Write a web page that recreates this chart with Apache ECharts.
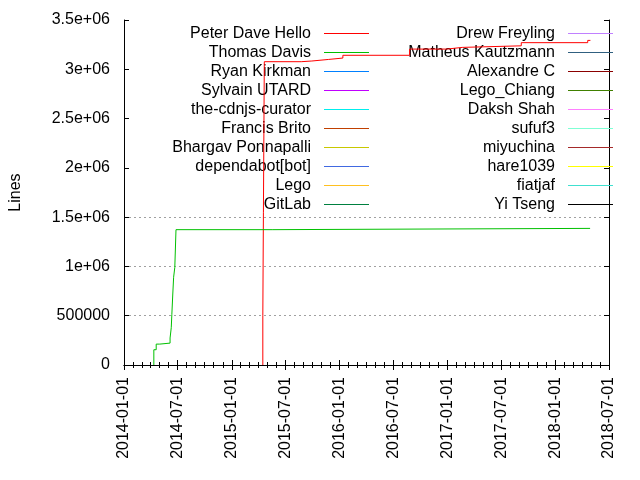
<!DOCTYPE html>
<html>
<head>
<meta charset="utf-8">
<script src="https://cdn.jsdelivr.net/npm/echarts@6/dist/echarts.min.js"></script>
<style>
	html, body { margin: 0; padding: 0; background: #fff; }
	#linesByAuthor { width: 640px; height: 480px; }
</style>
</head>
<body>
<div id="linesByAuthor"></div>
<script>
var authors = ['Peter Dave Hello', 'Thomas Davis', 'Ryan Kirkman', 'Sylvain UTARD', 'the-cdnjs-curator',
	'Francis Brito', 'Bhargav Ponnapalli', 'dependabot[bot]', 'Lego', 'GitLab',
	'Drew Freyling', 'Matheus Kautzmann', 'Alexandre C', 'Lego_Chiang', 'Daksh Shah',
	'sufuf3', 'miyuchina', 'hare1039', 'fiatjaf', 'Yi Tseng'];
var authorColors = ['#ff0000', '#00c000', '#0080ff', '#c000ff', '#00eeee',
	'#c04000', '#c8c800', '#4169e1', '#ffc020', '#008040',
	'#c080ff', '#306080', '#8b0000', '#408000', '#ff80ff',
	'#7fffd4', '#a52a2a', '#ffff00', '#40e0d0', '#000000'];

// cumulative lines, only the two visible authors
var peterDates = ['2015-04-16', '2015-04-16', '2015-04-18', '2015-04-21', '2015-08-24', '2015-09-29',
	'2015-11-25', '2016-01-12', '2016-08-25', '2016-12-29', '2017-02-19', '2017-09-07', '2018-04-20', '2018-04-29'];
var peterLines = [0, 500000, 1550000, 3077000, 3084000, 3100000,
	3114000, 3142000, 3205000, 3222000, 3238000, 3270000, 3293000, 3293000];
var thomasDates = ['2014-04-12', '2014-04-12', '2014-04-20', '2014-05-02', '2014-06-06', '2014-06-10',
	'2014-06-12', '2014-06-15', '2014-06-18', '2014-06-22', '2014-06-26', '2015-05-20', '2018-04-28'];
var thomasLines = [0, 155000, 212000, 222000, 274000, 378000,
	514000, 710000, 890000, 990000, 1373000, 1386000, 1386000];

var yTickLabels = ['0', '500000', '1e+06', '1.5e+06', '2e+06', '2.5e+06', '3e+06', '3.5e+06'];
var xMin = '2014-01-01', xMax = '2018-07-01';

function zip(d, v) {
	var out = [];
	for (var i = 0; i < d.length; i++) out.push([d[i], v[i]]);
	return out;
}

var font = 'Liberation Sans';
var series = [];
for (var i = 0; i < authors.length; i++) {
	var data = [];
	if (i == 0) data = zip(peterDates, peterLines);
	if (i == 1) data = zip(thomasDates, thomasLines);
	series.push({
		name: authors[i], type: 'line', step: 'end', data: data,
		showSymbol: false, color: authorColors[i], z: 3,
		lineStyle: { width: 1, color: authorColors[i] }
	});
}

function legendCol(names, right) {
	return {
		data: names, orient: 'vertical', align: 'right', right: right, top: 24,
		padding: 0, itemGap: 0, itemWidth: 45, itemHeight: 1, icon: 'rect',
		selectedMode: false, z: 1,
		textStyle: { fontFamily: font, fontSize: 16, color: '#000', lineHeight: 19, padding: [0, 8, 0, 0] }
	};
}

var tick = { show: true, inside: true, length: 5, lineStyle: { color: '#000' } };
var minor = { show: true, splitNumber: 6, length: 3, lineStyle: { color: '#000' } };
var line = { show: true, lineStyle: { color: '#000', width: 1 } };
var gray = '#a0a0a0';

var option = {
	animation: false,
	backgroundColor: '#fff',
	grid: { left: 124, right: 31, top: 20, bottom: 115 },
	legend: [legendCol(authors.slice(0, 10), 271), legendCol(authors.slice(10), 27)],
	xAxis: [{
		type: 'time', min: xMin, max: xMax, splitNumber: 9, position: 'bottom',
		axisLine: line, axisTick: tick, minorTick: minor, splitLine: { show: false },
		axisLabel: {
			rotate: 90, margin: 12, fontFamily: font, fontSize: 16, color: '#000', hideOverlap: false,
			formatter: function (v) { return echarts.time.format(v, '{yyyy}-{MM}-{dd}', false); }
		}
	}, {
		type: 'time', min: xMin, max: xMax, splitNumber: 9, position: 'top',
		axisLine: line, axisTick: tick, minorTick: minor, splitLine: { show: false },
		axisLabel: { show: false }
	}],
	yAxis: [{
		type: 'value', min: 0, max: 3500000, interval: 500000, position: 'left',
		name: 'Lines', nameLocation: 'middle', nameRotate: 90, nameGap: 100,
		nameTextStyle: { fontFamily: font, fontSize: 16, color: '#000' },
		axisLine: line, axisTick: tick,
		axisLabel: {
			margin: 14, fontFamily: font, fontSize: 16, color: '#000',
			formatter: function (v, idx) { return yTickLabels[idx]; }
		},
		// legend box hides the upper grid lines
		splitLine: { show: true, lineStyle: { type: [2, 3], width: 1,
			color: ['transparent', gray, gray, gray, 'transparent', 'transparent', 'transparent', 'transparent'] } }
	}, {
		type: 'value', min: 0, max: 3500000, interval: 500000, position: 'right',
		axisLine: line, axisTick: tick, axisLabel: { show: false }, splitLine: { show: false }
	}],
	series: series
};

var myChart = echarts.init(document.getElementById('linesByAuthor'));
myChart.setOption(option, true);
</script>
</body>
</html>
